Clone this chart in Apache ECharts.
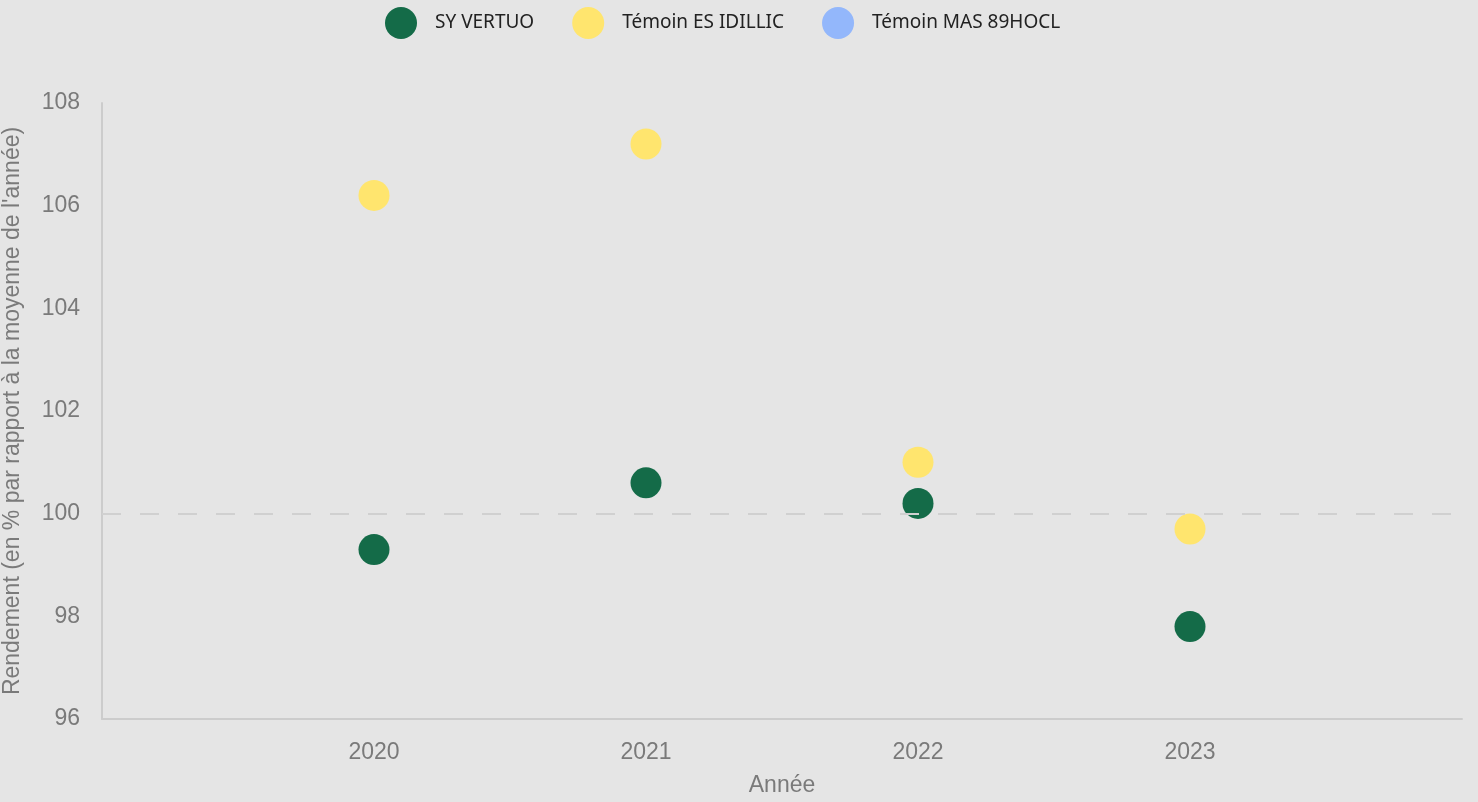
<!DOCTYPE html>
<html><head><meta charset="utf-8">
<script src="https://cdn.jsdelivr.net/npm/echarts@6/dist/echarts.min.js"></script>
<style>html,body{margin:0;padding:0;background:#e5e5e5}#c{width:1478px;height:802px}</style>
</head><body><div id="c"></div>
<script>
const years = [2020, 2021, 2022, 2023];
const seriesNames = ['SY VERTUO', 'Témoin ES IDILLIC', 'Témoin MAS 89HOCL'];
const vertuo = [99.3, 100.6, 100.2, 97.8];
const idillic = [106.2, 107.2, 101.0, 99.7];
const mas89 = [];
const colors = ['#146b48', '#ffe56e', '#93b7fb'];

const pairs = (vals) => vals.map((v, i) => [years[i], v]);
const chart = echarts.init(document.getElementById('c'));
const axisFont = { fontFamily: 'Liberation Sans', fontSize: 23, color: '#7a7a7a' };
chart.setOption({
  backgroundColor: '#e5e5e5',
  legend: {
    top: 2, left: 380, padding: 5, icon: 'circle',
    itemWidth: 32, itemHeight: 32, itemGap: 38,
    textStyle: { fontFamily: 'Noto Sans', fontSize: 19, color: '#222', padding: [0, 0, 0, 13] },
    data: seriesNames
  },
  grid: { left: 102, right: 16, top: 103, bottom: 83, outerBoundsMode: 'none' },
  xAxis: {
    type: 'value', min: 2019, max: 2024, interval: 1,
    name: 'Année', nameLocation: 'middle', nameGap: 55,
    nameTextStyle: axisFont,
    axisLine: { show: true, lineStyle: { color: '#cccccc', width: 2 } },
    axisTick: { show: false }, splitLine: { show: false },
    axisLabel: Object.assign({ margin: 22,
      formatter: v => (years.indexOf(v) >= 0 ? String(v) : '') }, axisFont)
  },
  yAxis: {
    type: 'value', min: 96, max: 108, interval: 2,
    name: "Rendement (en % par rapport à la moyenne de l'année)", nameLocation: 'middle', nameGap: 78,
    nameTextStyle: axisFont,
    axisLine: { show: true, lineStyle: { color: '#cccccc', width: 2 } },
    axisTick: { show: false }, splitLine: { show: false },
    axisLabel: Object.assign({ margin: 22 }, axisFont)
  },
  series: [
    { name: seriesNames[0], type: 'scatter', symbolSize: 31, itemStyle: { color: colors[0], opacity: 1 }, data: pairs(vertuo), z: 3 },
    { name: seriesNames[1], type: 'scatter', symbolSize: 31, itemStyle: { color: colors[1], opacity: 1 }, data: pairs(idillic), z: 3 },
    { name: seriesNames[2], type: 'scatter', symbolSize: 31, itemStyle: { color: colors[2], opacity: 1 }, data: pairs(mas89), z: 1,
      markLine: { silent: true, symbol: 'none', label: { show: false },
        lineStyle: { color: '#d0d0d0', type: [19, 19], width: 2 }, data: [{ yAxis: 100 }] } }
  ]
});
</script></body></html>
